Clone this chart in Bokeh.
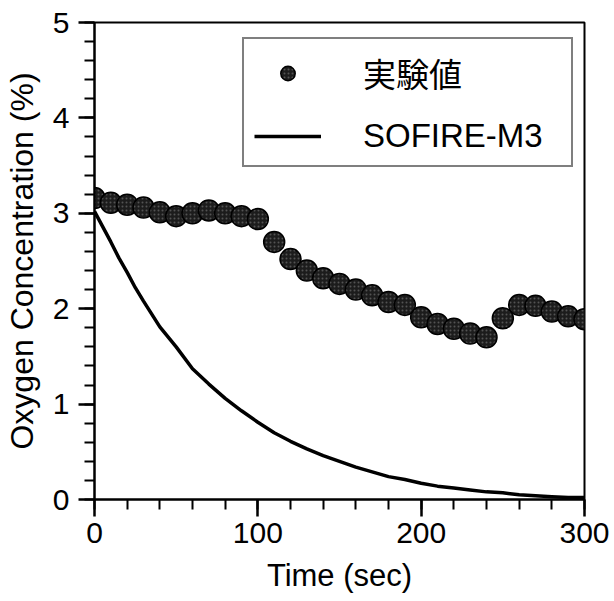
from bokeh.plotting import figure
from bokeh.models import FixedTicker, Legend, LegendItem, Range1d
from bokeh.embed import file_html
from bokeh.resources import INLINE

# Experimental values (実験値), every 10 s
exp_time = [0, 10, 20, 30, 40, 50, 60, 70, 80, 90, 100,
            110, 120, 130, 140, 150, 160, 170, 180, 190, 200,
            210, 220, 230, 240, 250, 260, 270, 280, 290, 300]
exp_o2 = [3.16, 3.11, 3.09, 3.06, 3.01, 2.97, 3.00, 3.03, 3.00, 2.97, 2.94,
          2.70, 2.52, 2.40, 2.32, 2.26, 2.20, 2.14, 2.07, 2.04, 1.91,
          1.84, 1.79, 1.74, 1.70, 1.90, 2.04, 2.03, 1.97, 1.92, 1.89]

# SOFIRE-M3 calculation
calc_time = [0, 5, 10, 15, 20, 25, 30, 40, 50, 60, 70, 80, 90, 100,
             110, 120, 130, 140, 150, 160, 170, 180, 190, 200,
             210, 220, 230, 240, 250, 260, 270, 280, 290, 300]
calc_o2 = [3.02, 2.86, 2.70, 2.53, 2.38, 2.22, 2.08, 1.81, 1.60, 1.37, 1.21, 1.06, 0.93, 0.81,
           0.70, 0.61, 0.53, 0.46, 0.40, 0.34, 0.29, 0.24, 0.21, 0.17,
           0.14, 0.12, 0.10, 0.08, 0.07, 0.05, 0.04, 0.03, 0.02, 0.02]

x_major = [0, 100, 200, 300]
x_minor = [v for v in range(0, 301, 20)]
y_major = [0, 1, 2, 3, 4, 5]
y_minor = [i / 5 for i in range(0, 26)]

labels = ["実験値", "SOFIRE-M3"]

FONT = "'Liberation Sans', 'Noto Sans CJK JP'"

p = figure(width=614, height=601, output_backend="svg", toolbar_location=None,
           x_range=Range1d(0, 300), y_range=Range1d(0, 5),
           min_border_left=92, min_border_right=30, min_border_top=22, min_border_bottom=102)

p.background_fill_color = "white"
p.border_fill_color = "white"
p.outline_line_color = "black"
p.outline_line_width = 2
p.xgrid.visible = False
p.ygrid.visible = False

line_r = p.line(calc_time, calc_o2, line_color="black", line_width=3.5)
pts_r = p.scatter(exp_time, exp_o2, size=21, marker="circle",
                  fill_color="#1c1c1c", line_color="black", line_width=1.5,
                  hatch_pattern="dot", hatch_color="#8a8a8a", hatch_scale=4, hatch_alpha=0.5)

for ax, maj, mino in ((p.xaxis[0], x_major, x_minor), (p.yaxis[0], y_major, y_minor)):
    ax.ticker = FixedTicker(ticks=maj, minor_ticks=mino)
    ax.axis_line_width = 2
    ax.axis_line_color = "black"
    ax.major_tick_line_width = 2.5
    ax.minor_tick_line_width = 2
    ax.major_tick_line_color = "black"
    ax.minor_tick_line_color = "black"
    ax.major_label_text_font = FONT
    ax.major_label_text_font_size = "30px"
    ax.major_label_text_color = "black"
    ax.axis_label_text_font = FONT
    ax.axis_label_text_font_style = "normal"
    ax.axis_label_text_color = "black"

p.xaxis.major_tick_in = 0
p.xaxis.major_tick_out = 17
p.xaxis.minor_tick_in = 0
p.xaxis.minor_tick_out = 10
p.xaxis.major_label_standoff = 6
p.xaxis.axis_label = "Time (sec)"
p.xaxis.axis_label_text_font_size = "31px"
p.xaxis.axis_label_standoff = 12

p.yaxis.major_tick_in = 0
p.yaxis.major_tick_out = 16
p.yaxis.minor_tick_in = 0
p.yaxis.minor_tick_out = 10
p.yaxis.major_label_standoff = 9
p.yaxis.axis_label = "Oxygen Concentration (%)"
p.yaxis.axis_label_text_font_size = "32px"
p.yaxis.axis_label_standoff = 10

legend = Legend(items=[LegendItem(label=labels[0], renderers=[pts_r]),
                       LegendItem(label=labels[1], renderers=[line_r])],
                location=(148, 332))
legend.label_text_font = FONT
legend.label_text_font_size = "33px"
legend.label_text_color = "black"
legend.border_line_color = "black"
legend.border_line_width = 2
legend.background_fill_color = "white"
legend.background_fill_alpha = 1
legend.padding = 10
legend.glyph_width = 67
legend.glyph_height = 36
legend.label_height = 36
legend.label_width = 198
legend.label_standoff = 42
legend.spacing = 20
legend.margin = 0
p.add_layout(legend, "center")

open("out.html", "w").write(file_html(p, INLINE))
